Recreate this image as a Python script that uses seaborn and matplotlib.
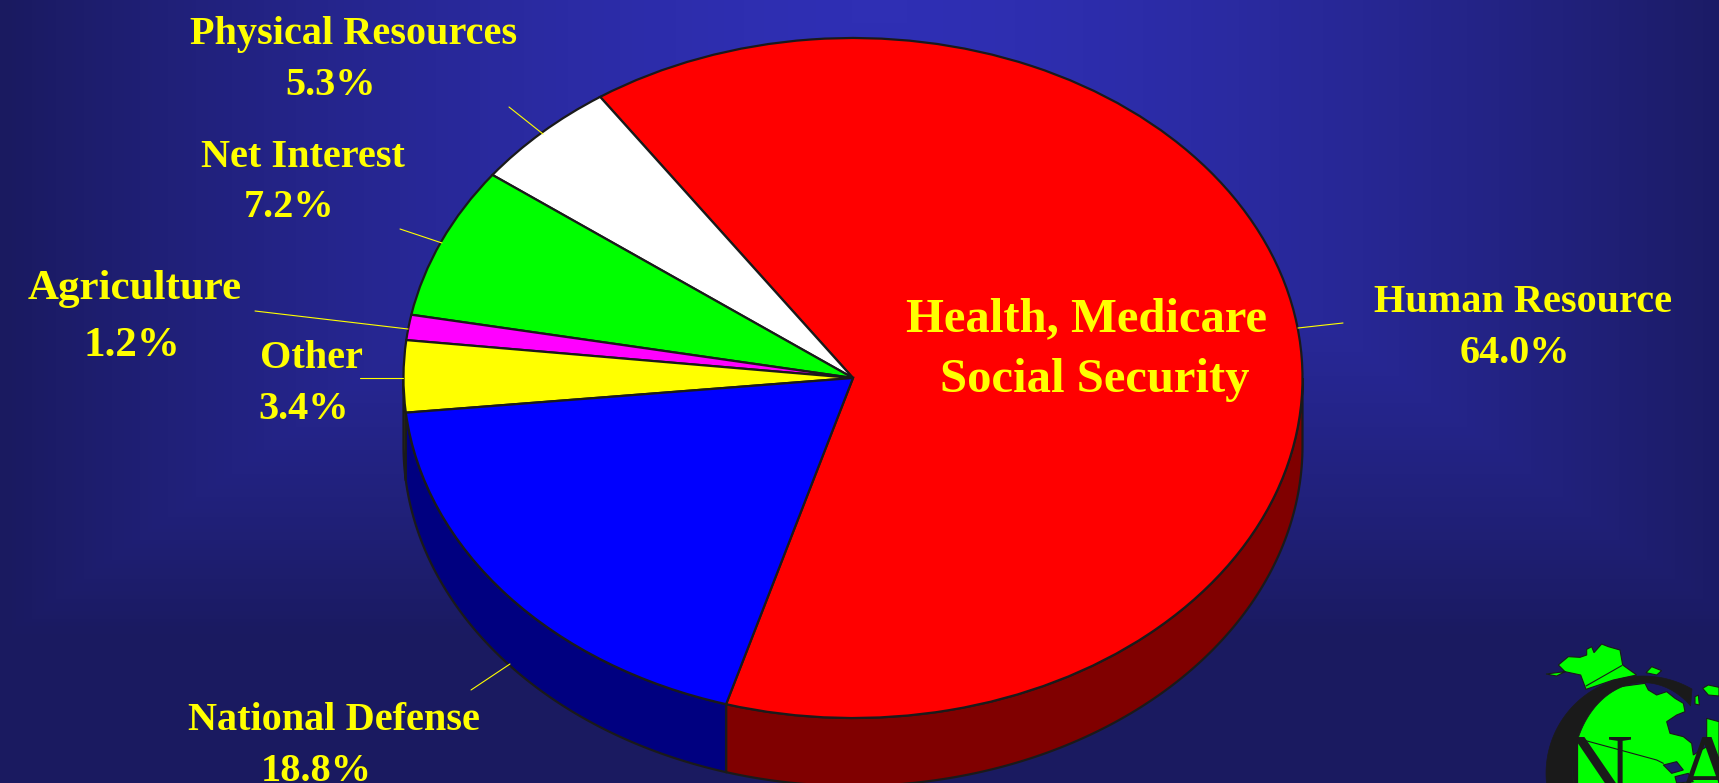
"""Federal budget pie, drawn as a tilted disk on a slide background
"""
import numpy as np
import seaborn as sns
import matplotlib.pyplot as plt

sns.set_theme(style="white")
plt.rcParams["font.family"] = ["Liberation Serif", "DejaVu Serif"]
plt.rcParams["font.weight"] = "bold"

categories = ["Human Resource", "Physical Resources", "Net Interest",
              "Agriculture", "Other", "National Defense"]
shares = [64.0, 5.3, 7.2, 1.2, 3.4, 18.8]
slice_colors = ["#ff0000", "#ffffff", "#00ff00", "#ff00ff", "#ffff00", "#0000ff"]

# label placement in pixels: centre x, baseline of name, baseline of value
label_x = [1523, 354, 303, 135, 311, 334]
label_y = [312, 44, 167, 299, 368, 730]
value_x = [1515, 331, 289, 132, 304, 316]
value_y = [363, 95, 217, 356, 419, 781]
label_size = [29, 29, 29, 31, 29, 29]
leaders = [((1298, 328), (1343, 323)), ((509, 107), (543, 134)),
           ((400, 229), (442, 243)), ((255, 311), (408, 329)),
           ((360, 378), (403, 378)), ((471, 690), (510, 664))]

W, H = 1719, 783
CX, CY, RX, RY, DEPTH = 853, 378, 449.5, 340, 68
YELLOW = "#ffff00"

fig = plt.figure(figsize=(W / 100, H / 100), dpi=100)

# background: rectangular gradient from the top centre
bg = fig.add_axes([0, 0, 1, 1], zorder=0)
xx, yy = np.meshgrid(np.linspace(0, W, 430), np.linspace(0, H, 200))
grad = np.maximum(np.abs(xx - 880) / 880, yy / 640).clip(0, 1) ** 1.6
cmap = sns.blend_palette(["#2f2fb4", "#1a1a60"], as_cmap=True)
bg.imshow(grad, cmap=cmap, vmin=0, vmax=1, extent=(0, W, H, 0), aspect="auto")
bg.axis("off")

# pie axes: the unit circle lands on the ellipse of the disk
ax = fig.add_axes([0, 0, 1, 1], zorder=1)
ax.pie(shares, colors=slice_colors, startangle=253.6, counterclock=True,
       radius=1, wedgeprops=dict(edgecolor="k", linewidth=1.6))
ax.set_aspect("auto")
ax.set_xlim(-CX / RX, (W - CX) / RX)
ax.set_ylim((CY - H) / RY, CY / RY)

# rim of the disk: darker copy of each slice below the front edge
edges = 253.6 + np.cumsum([0] + shares) / sum(shares) * 360
for a, b, color in zip(edges[:-1], edges[1:], slice_colors):
    for k in (0, 360):
        lo, hi = max(a, 180 + k), min(b, 360 + k)
        if lo >= hi:
            continue
        t = np.radians(np.linspace(lo, hi, 120))
        xs = np.r_[np.cos(t), np.cos(t)[::-1]]
        ys = np.r_[np.sin(t), np.sin(t)[::-1] - DEPTH / RY]
        ax.fill(xs, ys, facecolor=sns.set_hls_values(color, l=.25),
                edgecolor="k", linewidth=1.6, zorder=.5)

# overlay in pixel coordinates for the text and the logo
top = fig.add_axes([0, 0, 1, 1], zorder=2)
top.set_xlim(0, W)
top.set_ylim(H, 0)
top.axis("off")

for name, share, x, y, vx, vy, size, leader in zip(
        categories, shares, label_x, label_y, value_x, value_y, label_size, leaders):
    top.text(x, y, name, color=YELLOW, fontsize=size, ha="center", va="baseline")
    top.text(vx, vy, f"{share:.1f}%", color=YELLOW, fontsize=size, ha="center", va="baseline")
    top.plot(*zip(*leader), color=YELLOW, linewidth=.8)

top.text(1086, 331, "Health, Medicare", color=YELLOW, fontsize=35, ha="center", va="baseline")
top.text(1095, 392, "Social Security", color=YELLOW, fontsize=35, ha="center", va="baseline")


# logo, traced in crop coordinates of the bottom right corner
def crop(points):
    pts = np.asarray(points, dtype=float)
    return pts[:, 0] / 3 + 1480, pts[:, 1] / 3 + 600


GREEN = "#00ff00"
alaska = [(198, 222), (230, 228), (255, 215), (235, 195), (265, 170), (300, 172), (320, 165),
          (320, 148), (335, 140), (342, 158), (365, 132), (385, 140), (420, 150), (428, 195),
          (470, 225), (400, 240), (318, 268), (302, 225), (255, 215)]
body = [(285, 450), (300, 360), (350, 300), (420, 260), (495, 250), (505, 270), (530, 285),
        (560, 275), (585, 295), (610, 310), (615, 335), (590, 345), (560, 365), (570, 400),
        (610, 410), (635, 430), (640, 465), (680, 440), (680, 355), (717, 365), (717, 560),
        (278, 560)]
islands = [[(498, 218), (515, 200), (545, 212), (530, 225)],
           [(668, 265), (685, 255), (717, 262), (717, 288), (685, 285)],
           [(645, 290), (655, 285), (658, 315), (645, 312)]]
lakes = [[(550, 495), (590, 485), (610, 510), (575, 520)],
         [(585, 530), (625, 520), (640, 545), (590, 549)]]
for shape in [alaska, body] + islands:
    top.fill(*crop(shape), facecolor=GREEN, edgecolor="k", linewidth=.8)
for shape in lakes:
    top.fill(*crop(shape), facecolor="#1c1c68", edgecolor="k", linewidth=.8)
top.plot(*crop([(318, 258), (425, 197)]), color="k", linewidth=.8)
top.plot(*crop([(310, 420), (530, 480), (550, 490)]), color="k", linewidth=.8)

outer = np.radians(np.linspace(60, 190, 80))
inner = np.radians(np.linspace(190, 48, 80))
c_x = np.r_[490 + 292 * np.cos(outer), 490 + 212 * np.cos(inner)]
c_y = np.r_[520 - 292 * np.sin(outer), 520 - 272 * np.sin(inner)]
top.fill(*crop(np.c_[c_x, c_y]), facecolor="k", edgecolor="k", linewidth=.5)

top.text(1597, 802, "N", color="k", fontsize=71, fontweight="normal", ha="center", va="baseline")
top.text(1708, 802, "A", color="k", fontsize=71, fontweight="normal", ha="center", va="baseline")

fig.savefig("out.png", dpi=100)
